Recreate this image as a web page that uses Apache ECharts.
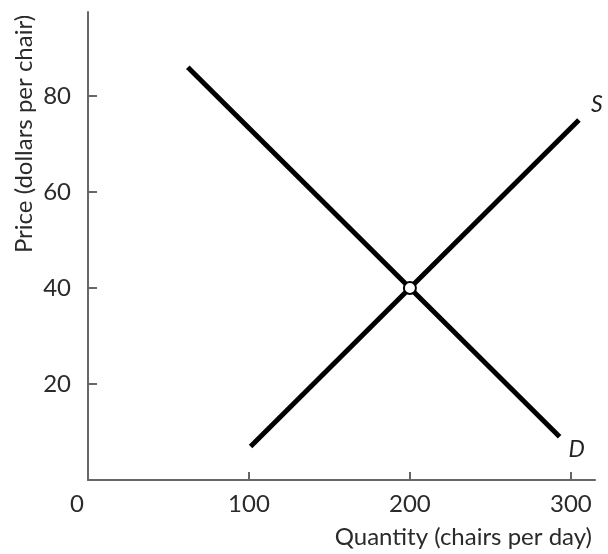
<!DOCTYPE html>
<html>
<head>
<meta charset="utf-8">
<script src="https://cdn.jsdelivr.net/npm/echarts@6/dist/echarts.min.js"></script>
<style>html,body{margin:0;padding:0;background:#fff}#c{width:608px;height:554px}</style>
</head>
<body>
<div id="c"></div>
<script>
// Data
const demandQ = [62, 293];
const demandP = [86, 9];
const supplyQ = [101, 305];
const supplyP = [7, 75];
const equilibrium = [200, 40];
const xTickValues = [100, 200, 300];
const xLabelValues = [0, 100, 200, 300];
const yTickValues = [20, 40, 60, 80];
const xTitle = 'Quantity (chairs per day)';
const yTitle = 'Price (dollars per chair)';

const FONT = 'Lato';
const chart = echarts.init(document.getElementById('c'), null, {renderer: 'canvas'});
chart.setOption({
  backgroundColor: '#fff',
  animation: false,
  grid: {left: 88, top: 12, width: 507, height: 468, containLabel: false},
  xAxis: {
    type: 'value', min: 0, max: 315,
    splitLine: {show: false},
    axisLine: {show: true, lineStyle: {color: '#666', width: 2}},
    axisTick: {show: true, inside: true, length: 8, customValues: xTickValues, lineStyle: {color: '#666', width: 2}},
    axisLabel: {
      customValues: xLabelValues, margin: 12,
      fontFamily: FONT, fontSize: 24, color: '#2a2a2a',
      formatter: v => v === 0 ? '{z|0}' : String(v),
      rich: {z: {fontFamily: FONT, fontSize: 24, color: '#2a2a2a', padding: [0, 22, 0, 0]}}
    }
  },
  yAxis: {
    type: 'value', min: 0, max: 97.5,
    splitLine: {show: false},
    axisLine: {show: true, lineStyle: {color: '#666', width: 2}},
    axisTick: {show: true, inside: true, length: 9, customValues: yTickValues, lineStyle: {color: '#666', width: 2}},
    axisLabel: {customValues: yTickValues, margin: 17, fontFamily: FONT, fontSize: 24, color: '#2a2a2a'}
  },
  graphic: [
    {type: 'text', x: 592, y: 537, style: {text: xTitle, fontFamily: FONT, fontSize: 24, fill: '#2a2a2a', align: 'right', verticalAlign: 'middle'}},
    {type: 'text', x: 24, y: 134, rotation: Math.PI / 2, style: {text: yTitle, fontFamily: FONT, fontSize: 24, fill: '#2a2a2a', align: 'center', verticalAlign: 'middle'}}
  ],
  series: [
    {
      type: 'line', name: 'D', symbol: 'none',
      lineStyle: {color: '#000', width: 5, cap: 'butt'},
      data: demandQ.map((q, i) => [q, demandP[i]]),
      markPoint: {
        symbol: 'circle', symbolSize: 0,
        label: {show: true, formatter: 'D', fontFamily: FONT, fontStyle: 'italic', fontSize: 23, color: '#222', offset: [17, 13]},
        data: [{coord: [demandQ[1], demandP[1]]}]
      },
      z: 2
    },
    {
      type: 'line', name: 'S', symbol: 'none',
      lineStyle: {color: '#000', width: 5, cap: 'butt'},
      data: supplyQ.map((q, i) => [q, supplyP[i]]),
      markPoint: {
        symbol: 'circle', symbolSize: 0,
        label: {show: true, formatter: 'S', fontFamily: FONT, fontStyle: 'italic', fontSize: 23, color: '#222', offset: [18, -15]},
        data: [{coord: [supplyQ[1], supplyP[1]]}]
      },
      z: 2
    },
    {
      type: 'scatter', symbol: 'circle', symbolSize: 12,
      itemStyle: {color: '#fff', borderColor: '#000', borderWidth: 2, opacity: 1},
      data: [equilibrium], z: 5
    }
  ]
});
</script>
</body>
</html>
